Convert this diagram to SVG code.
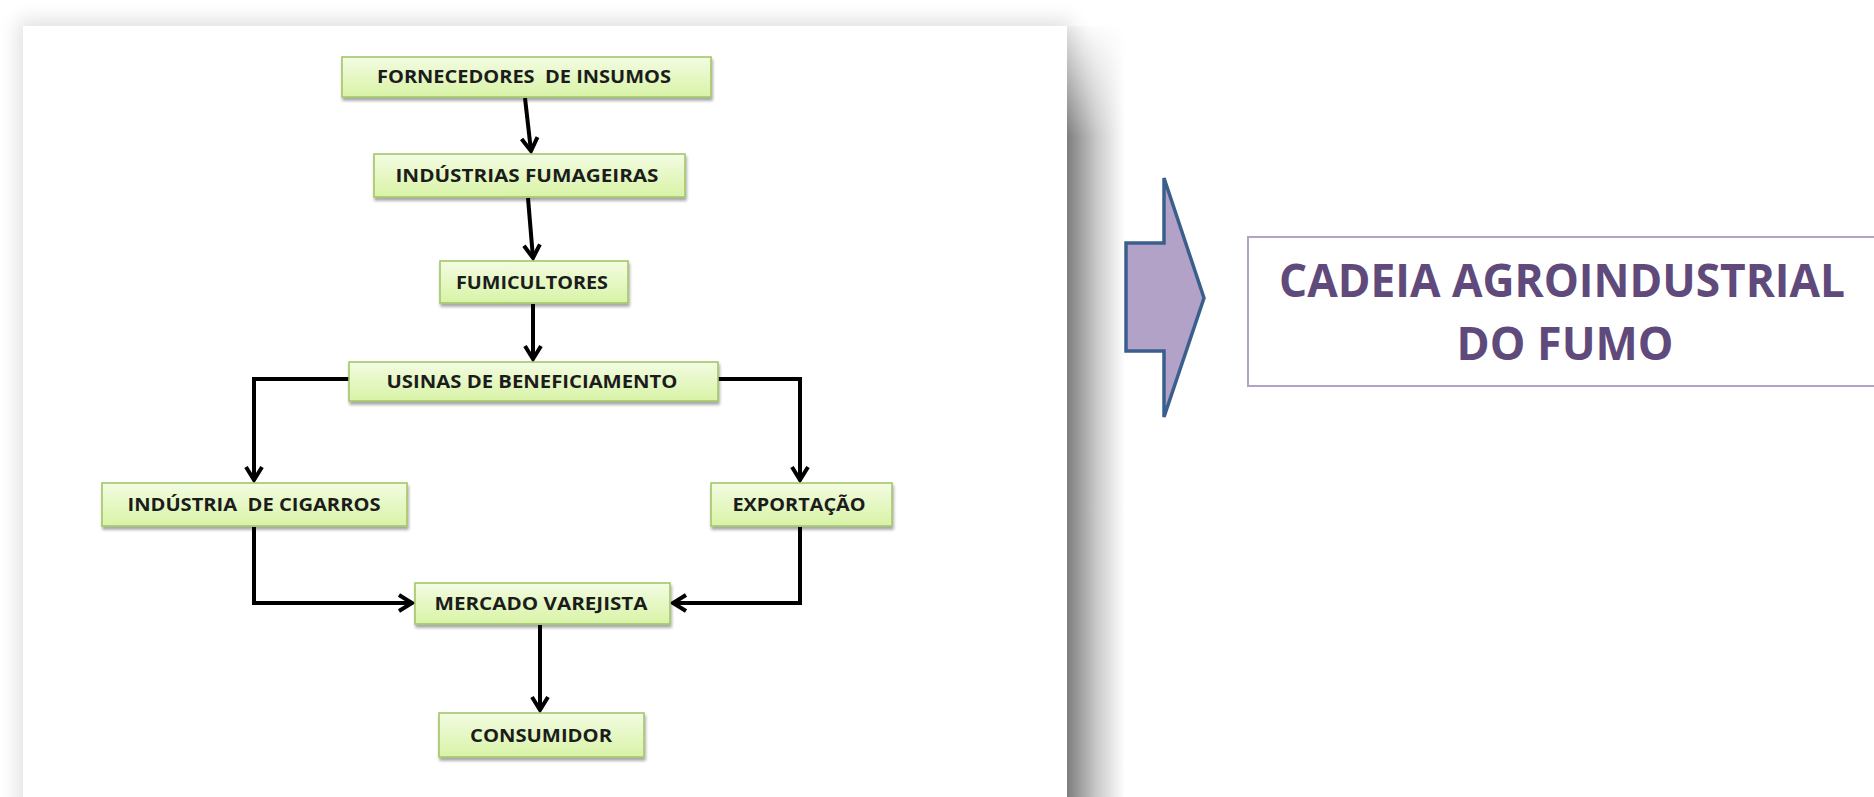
<svg xmlns="http://www.w3.org/2000/svg" width="1874" height="797" viewBox="0 0 1874 797">
<defs>
<style>
.box{fill:url(#boxg);stroke:#a3c66a;stroke-width:1.6;filter:url(#bsh)}
.lbl{font-family:"Open Sans","Liberation Sans",sans-serif;font-weight:bold;font-size:18px;fill:#1c1c1c;text-anchor:middle;white-space:pre}
.con{fill:none;stroke:#000;stroke-width:4;stroke-linejoin:miter;marker-end:url(#arr)}
.title{font-family:"Open Sans","Liberation Sans",sans-serif;font-weight:bold;font-size:47px;fill:#604a7b;text-anchor:middle}
</style>
<linearGradient id="boxg" x1="0" y1="0" x2="0" y2="1">
<stop offset="0" stop-color="#f3fce2"/>
<stop offset="1" stop-color="#d8f3a6"/>
</linearGradient>
<linearGradient id="rsh" x1="0" y1="0" x2="1" y2="0">
<stop offset="0" stop-color="#7d7d7d"/>
<stop offset="0.5" stop-color="#c8c8c8"/>
<stop offset="1" stop-color="#ffffff"/>
</linearGradient>
<linearGradient id="vfade" x1="0" y1="0" x2="0" y2="1">
<stop offset="0" stop-color="#fff" stop-opacity="0"/>
<stop offset="0.15" stop-color="#fff" stop-opacity="1"/>
<stop offset="1" stop-color="#fff" stop-opacity="1"/>
</linearGradient>
<mask id="vm" maskUnits="userSpaceOnUse" x="1060" y="0" width="80" height="797">
<rect x="1060" y="20" width="80" height="777" fill="url(#vfade)"/>
</mask>
<filter id="soft" x="-10%" y="-10%" width="120%" height="120%">
<feGaussianBlur stdDeviation="10"/>
</filter>
<filter id="bsh" x="-10%" y="-20%" width="120%" height="160%">
<feGaussianBlur in="SourceAlpha" stdDeviation="1.5"/>
<feOffset dx="1" dy="3" result="o"/>
<feComponentTransfer><feFuncA type="linear" slope="0.35"/></feComponentTransfer>
<feMerge><feMergeNode/><feMergeNode in="SourceGraphic"/></feMerge>
</filter>
<marker id="arr" markerUnits="userSpaceOnUse" markerWidth="30" markerHeight="30" refX="0" refY="0" orient="auto" overflow="visible">
<path d="M-13,-8 L0,0 L-13,8" fill="none" stroke="#000" stroke-width="4" stroke-linejoin="miter"/>
</marker>
</defs>
<rect width="1874" height="797" fill="#fff"/>
<g id="panel">
<rect x="18" y="20" width="1055" height="800" fill="#000" opacity="0.12" filter="url(#soft)"/>
<rect x="1067" y="26" width="58" height="771" fill="url(#rsh)" mask="url(#vm)"/>
<rect x="23" y="26" width="1044" height="780" fill="#fff"/>
</g>
<g id="connectors">
<path class="con" d="M525,98 L531,151"/>
<path class="con" d="M528,198 L533,258"/>
<path class="con" d="M533,304 L533,359"/>
<path class="con" d="M349,379 H254 V480"/>
<path class="con" d="M718,379 H800 V480"/>
<path class="con" d="M254,527 V603 H412"/>
<path class="con" d="M800,527 V603 H673"/>
<path class="con" d="M540,625 V710"/>
</g>
<g id="n1"><rect class="box" x="342" y="57" width="369" height="40"/><text class="lbl" x="524" y="83" textLength="294" lengthAdjust="spacingAndGlyphs">FORNECEDORES  DE INSUMOS</text></g>
<g id="n2"><rect class="box" x="374" y="154" width="311" height="43"/><text class="lbl" x="527" y="182" textLength="263" lengthAdjust="spacingAndGlyphs">INDÚSTRIAS FUMAGEIRAS</text></g>
<g id="n3"><rect class="box" x="440" y="261" width="188" height="42"/><text class="lbl" x="532" y="289" textLength="152" lengthAdjust="spacingAndGlyphs">FUMICULTORES</text></g>
<g id="n4"><rect class="box" x="349" y="362" width="369" height="39"/><text class="lbl" x="532" y="388" textLength="291" lengthAdjust="spacingAndGlyphs">USINAS DE BENEFICIAMENTO</text></g>
<g id="n5"><rect class="box" x="102" y="483" width="305" height="43"/><text class="lbl" x="254" y="511" textLength="253" lengthAdjust="spacingAndGlyphs">INDÚSTRIA  DE CIGARROS</text></g>
<g id="n6"><rect class="box" x="711" y="483" width="181" height="43"/><text class="lbl" x="799" y="511" textLength="133" lengthAdjust="spacingAndGlyphs">EXPORTAÇÃO</text></g>
<g id="n7"><rect class="box" x="415" y="583" width="255" height="41"/><text class="lbl" x="541" y="610" textLength="213" lengthAdjust="spacingAndGlyphs">MERCADO VAREJISTA</text></g>
<g id="n8"><rect class="box" x="439" y="713" width="205" height="44"/><text class="lbl" x="541" y="742" textLength="142" lengthAdjust="spacingAndGlyphs">CONSUMIDOR</text></g>
<g id="bigarrow">
<polygon points="1126,243 1164,243 1164,178 1204,298 1164,417 1164,351 1126,351" fill="#b3a2c7" stroke="#3a5f8c" stroke-width="3.5" stroke-linejoin="miter"/>
</g>
<g id="titlebox">
<rect x="1248" y="237" width="640" height="149" fill="#fff" stroke="#b3a2c7" stroke-width="2"/>
<text class="title" x="1562" y="297" textLength="566" lengthAdjust="spacingAndGlyphs">CADEIA AGROINDUSTRIAL</text>
<text class="title" x="1565" y="360" textLength="217" lengthAdjust="spacingAndGlyphs">DO FUMO</text>
</g>
</svg>
